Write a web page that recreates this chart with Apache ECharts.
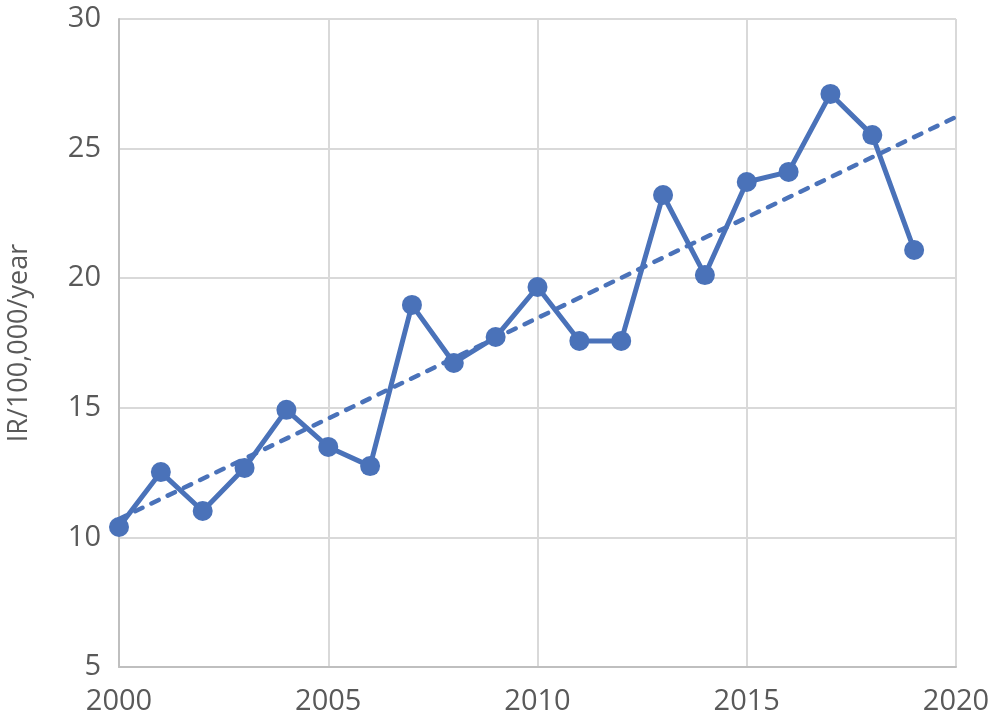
<!DOCTYPE html>
<html>
<head>
<meta charset="utf-8">
<script src="https://cdn.jsdelivr.net/npm/echarts@6/dist/echarts.min.js"></script>
<style>
  html, body { margin: 0; padding: 0; background: #fff; }
  #chart { width: 993px; height: 724px; }
</style>
</head>
<body>
<div id="chart"></div>
<script>
const years = [2000, 2001, 2002, 2003, 2004, 2005, 2006, 2007, 2008, 2009,
               2010, 2011, 2012, 2013, 2014, 2015, 2016, 2017, 2018, 2019];
const rates = [10.40, 12.52, 11.02, 12.68, 14.92, 13.49, 12.75, 18.97, 16.73, 17.73,
               19.66, 17.58, 17.58, 23.21, 20.12, 23.71, 24.10, 27.11, 25.52, 21.09];
const trendYears = [2000, 2020];
const trendRates = [10.71, 26.22];

const blue = '#4A72B9';
const font = 'Open Sans';

const chart = echarts.init(document.getElementById('chart'));
chart.setOption({
  animation: false,
  grid: { left: 119, right: 37, top: 19, bottom: 57, outerBoundsMode: 'none' },
  xAxis: {
    type: 'value',
    min: 2000,
    max: 2020,
    interval: 5,
    axisLine: { show: true, lineStyle: { color: '#bfbfbf', width: 2 } },
    axisTick: { show: false },
    splitLine: { show: true, lineStyle: { color: '#d9d9d9', width: 2 } },
    axisLabel: {
      formatter: v => String(v),
      color: '#595959',
      fontFamily: font,
      fontSize: 29,
      margin: 20
    }
  },
  yAxis: {
    type: 'value',
    min: 5,
    max: 30,
    interval: 5,
    name: 'IR/100,000/year',
    nameLocation: 'middle',
    nameGap: 86,
    nameTextStyle: { color: '#595959', fontFamily: font, fontSize: 27 },
    axisLine: { show: true, lineStyle: { color: '#bfbfbf', width: 2 } },
    axisTick: { show: false },
    splitLine: { show: true, lineStyle: { color: '#d9d9d9', width: 2 } },
    axisLabel: {
      color: '#595959',
      fontFamily: font,
      fontSize: 29,
      margin: 18
    }
  },
  series: [
    {
      type: 'line',
      data: trendYears.map((y, i) => [y, trendRates[i]]),
      showSymbol: false,
      lineStyle: { color: blue, width: 4.5, type: [8, 10], cap: 'round' },
      z: 1
    },
    {
      type: 'line',
      data: years.map((y, i) => [y, rates[i]]),
      symbol: 'circle',
      symbolSize: 20,
      itemStyle: { color: blue },
      lineStyle: { color: blue, width: 5 },
      z: 2
    }
  ]
});
</script>
</body>
</html>
